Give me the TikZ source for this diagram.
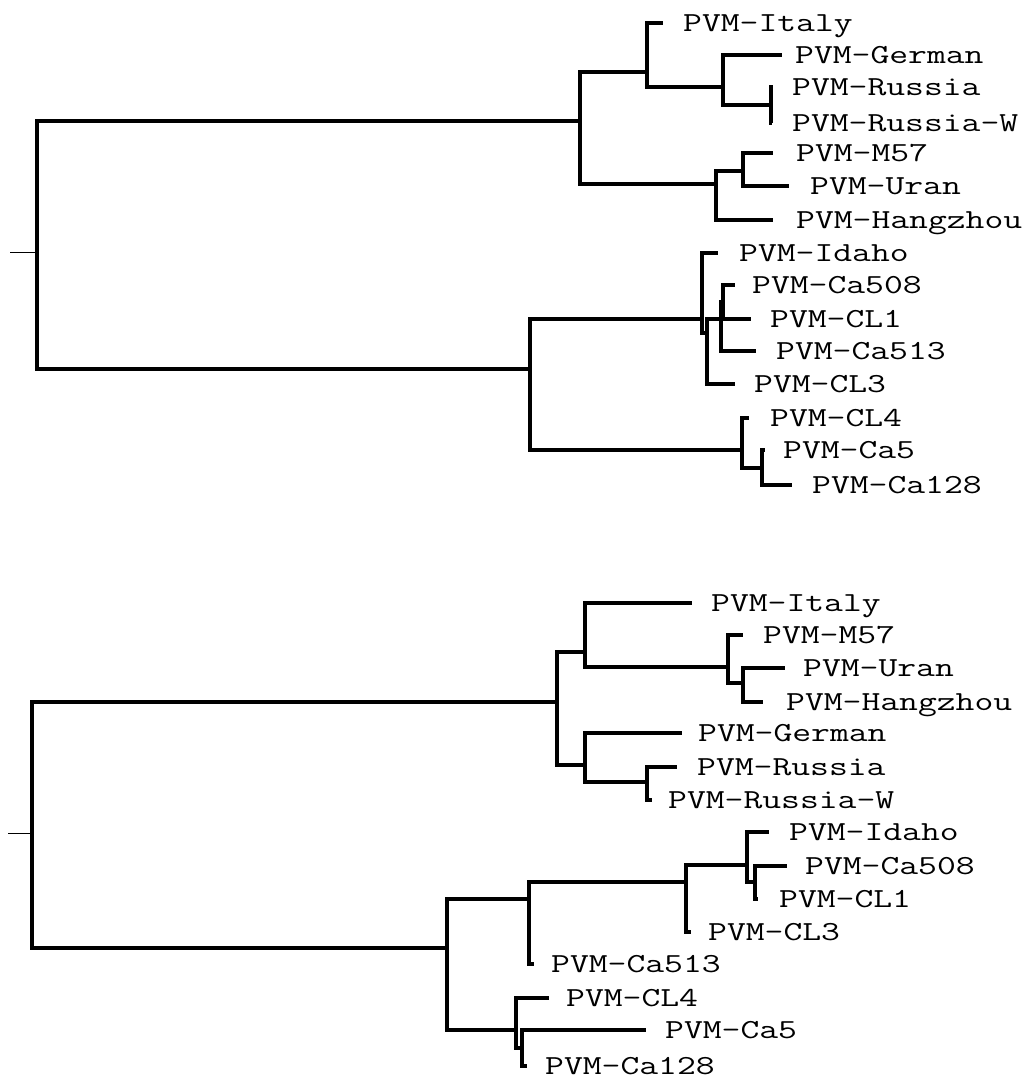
\documentclass[tikz,border=0pt]{standalone}
\usepackage{graphicx}
\usepackage{tikz}
\newcommand{\taxname}[1]{\scalebox{1.33}[1]{#1}}

\begin{document}
\begin{tikzpicture}
        [x=1pt,y=-1pt,
         branch/.style={line width=3.2pt},
         stub/.style={line width=1pt},
         taxon/.style={anchor=west,inner sep=0pt,text height=16.8pt,text depth=0pt,
           font=\ttfamily\fontsize{27.5}{27.5}\selectfont}]
        \useasboundingbox (0,0) rectangle (1032,1080);

        % upper tree
        \coordinate (s1) at (10,252); \coordinate (r1) at (37,252);
        \foreach \n/\x/\y in {ca1/580/121,cb1/530/369,n1/647/72,n2/723/87,
          n3/771/105,n4/716/184,n5/743/171,n6/702/319,n7/707/333,n8/721/319,
          n9/723/302,n10/742/450,n11/762/468}
          \coordinate (\n) at (\x,\y);
        \foreach \n/\x/\y in {titaly1/663/23,tgerman1/782/55,trussia1/773/87,
          trussiaw1/772/123,tm571/773/153,turan1/789/186,thang1/773/220,
          tidaho1/718/253,tca5081/735/285,tcl11/751/319,tca5131/756/351,
          tcl31/735/384,tcl41/749/418,tca51/765/450,tca1281/792/485}
          \coordinate (\n) at (\x,\y);

        \draw[stub] (s1) -- (r1);
        \foreach \from/\to in {r1/ca1,r1/cb1,ca1/n1,ca1/n4,n1/titaly1,n1/n2,
          n2/tgerman1,n2/n3,n3/trussia1,n3/trussiaw1,n4/n5,n4/thang1,n5/tm571,
          n5/turan1,cb1/n6,cb1/n10,n6/tidaho1,n6/n7,n7/n8,n7/tcl31,n8/n9,
          n8/tca5131,n9/tca5081,n9/tcl11,n10/tcl41,n10/n11,n11/tca51,n11/tca1281}
          \draw[branch] (\from) |- (\to);

        \foreach \n/\x/\y/\t in {italy1/683/23/PVM-Italy,german1/795/55/PVM-German,
          russia1/792/87/PVM-Russia,russiaw1/792/123/PVM-Russia-W,
          m571/796/153/PVM-M57,uran1/810/186/PVM-Uran,hang1/796/220/PVM-Hangzhou,
          idaho1/739/253/PVM-Idaho,ca5081/752/285/PVM-Ca508,cl11/770/319/PVM-CL1,
          ca5131/776/351/PVM-Ca513,cl31/754/384/PVM-CL3,cl41/770/418/PVM-CL4,
          ca51/783/450/PVM-Ca5,ca1281/812/485/PVM-Ca128}
          \node[taxon] (\n) at (\x,\y) {\taxname{\t}};

        % lower tree
        \coordinate (s2) at (8,833); \coordinate (r2) at (32,833);
        \foreach \n/\x/\y in {ca2/557/702,cb2/447/948,m1/585/652,m2/728/667,
          m3/743/683,m4/585/765,m5/647/782,m6/529/899,m7/686/882,m8/747/865,
          m9/755/882,m10/516/1030,m11/522/1048}
          \coordinate (\n) at (\x,\y);
        \foreach \n/\x/\y in {titaly2/692/603,tm572/743/635,turan2/785/668,
          thang2/763/702,tgerman2/682/733,trussia2/677/767,trussiaw2/652/800,
          tidaho2/769/832,tca5082/787/866,tcl12/758/899,tcl32/691/932,
          tca5132/534/964,tcl42/549/998,tca52/646/1030,tca1282/527/1066}
          \coordinate (\n) at (\x,\y);

        \draw[stub] (s2) -- (r2);
        \foreach \from/\to in {r2/ca2,r2/cb2,ca2/m1,ca2/m4,m1/titaly2,m1/m2,
          m2/tm572,m2/m3,m3/turan2,m3/thang2,m4/tgerman2,m4/m5,m5/trussia2,
          m5/trussiaw2,cb2/m6,cb2/m10,m6/m7,m6/tca5132,m7/m8,m7/tcl32,m8/tidaho2,
          m8/m9,m9/tca5082,m9/tcl12,m10/tcl42,m10/m11,m11/tca52,m11/tca1282}
          \draw[branch] (\from) |- (\to);

        \foreach \n/\x/\y/\t in {italy2/711/603/PVM-Italy,m572/763/635/PVM-M57,
          uran2/803/668/PVM-Uran,hang2/786/702/PVM-Hangzhou,
          german2/698/733/PVM-German,russia2/697/767/PVM-Russia,
          russiaw2/668/800/PVM-Russia-W,idaho2/789/832/PVM-Idaho,
          ca5082/805/866/PVM-Ca508,cl12/779/899/PVM-CL1,cl32/708/932/PVM-CL3,
          ca5132/551/964/PVM-Ca513,cl42/566/998/PVM-CL4,ca52/665/1030/PVM-Ca5,
          ca1282/545/1066/PVM-Ca128}
          \node[taxon] (\n) at (\x,\y) {\taxname{\t}};
    \end{tikzpicture}
\end{document}
